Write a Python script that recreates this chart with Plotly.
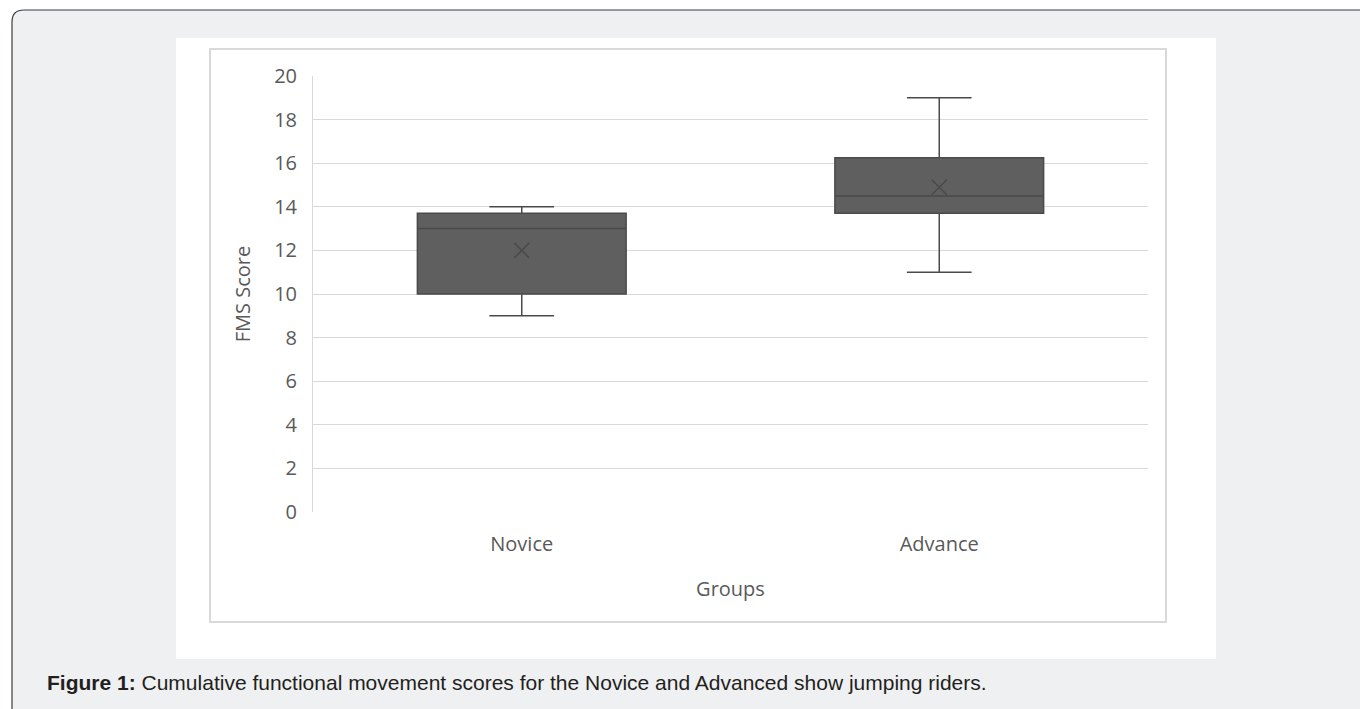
import plotly.graph_objects as go

groups = ["Novice", "Advance"]
q1 = [10.0, 13.7]
median = [13.0, 14.5]
q3 = [13.7, 16.25]
lower = [9.0, 11.0]
upper = [14.0, 19.0]
means = [12.0, 14.9]
y_ticks = [0, 2, 4, 6, 8, 10, 12, 14, 16, 18, 20]

W, H = 1368, 709
OFF = 8  # page body margin
L, R, T, B = 313 - OFF, 1148 - OFF, 76 - OFF, 512 - OFF


def px(x):
    return (x - OFF - L) / (R - L)


def py(y):
    return (B - (y - OFF)) / (B - T)


fig = go.Figure()
fig.add_trace(go.Box(
    x=groups, q1=q1, median=median, q3=q3,
    lowerfence=lower, upperfence=upper,
    fillcolor="#5f5f5f", line=dict(color="#4a4a4a", width=1.5),
    width=0.5, whiskerwidth=0.31, boxpoints=False, showlegend=False,
    hoverinfo="skip",
))
fig.add_trace(go.Scatter(
    x=groups, y=means, mode="markers",
    marker=dict(symbol="x-thin-open", size=15,
                line=dict(color="#4a4a4a", width=1.5), color="#4a4a4a"),
    showlegend=False, hoverinfo="skip",
))

# outer rounded panel
x0, y0, x1, y1, r = 12, 10, 1385, 730, 12
path = (f"M {px(x0 + r)},{py(y0)} L {px(x1)},{py(y0)} L {px(x1)},{py(y1)} "
        f"L {px(x0)},{py(y1)} L {px(x0)},{py(y0 + r)} "
        f"Q {px(x0)},{py(y0)} {px(x0 + r)},{py(y0)} Z")
shapes = [
    dict(type="path", path=path, xref="paper", yref="paper",
         fillcolor="#eff0f2", line=dict(color="#3e3e3e", width=1.2), layer="below"),
    dict(type="rect", xref="paper", yref="paper",
         x0=px(176), x1=px(1216), y0=py(38), y1=py(659),
         fillcolor="#ffffff", line=dict(width=0), layer="below"),
    dict(type="rect", xref="paper", yref="paper",
         x0=px(210), x1=px(1166), y0=py(49), y1=py(622),
         fillcolor="#ffffff", line=dict(color="#d9d9d9", width=2), layer="below"),
]

font = "Open Sans, sans-serif"
fig.update_layout(
    width=W, height=H, autosize=False,
    margin=dict(l=L, r=W - R, t=T, b=H - B, pad=0),
    paper_bgcolor="#ffffff", plot_bgcolor="#ffffff",
    shapes=shapes,
    font=dict(family=font, size=20, color="#595959"),
    xaxis=dict(
        categoryorder="array", categoryarray=groups, range=[-0.5, 1.5],
        showgrid=False, zeroline=False, showline=False, ticks="",
        ticklabelstandoff=18,
        title=dict(text="Groups", standoff=25, font=dict(size=20, color="#595959")),
    ),
    yaxis=dict(
        range=[0, 20], tickvals=y_ticks, showgrid=True, gridcolor="#d9d9d9",
        gridwidth=1, zeroline=False, showline=True, linecolor="#d9d9d9",
        ticks="", ticklabelstandoff=11,
        title=dict(text="FMS Score", standoff=18, font=dict(size=20, color="#595959")),
    ),
    annotations=[dict(
        xref="paper", yref="paper", x=px(45), y=py(682),
        xanchor="left", yanchor="middle", showarrow=False,
        text="<b>Figure 1:</b> Cumulative functional movement scores for the Novice and Advanced show jumping riders.",
        font=dict(family="Liberation Sans, Arial, sans-serif", size=21, color="#231f20"),
    )],
)

fig.write_html("out.html")
